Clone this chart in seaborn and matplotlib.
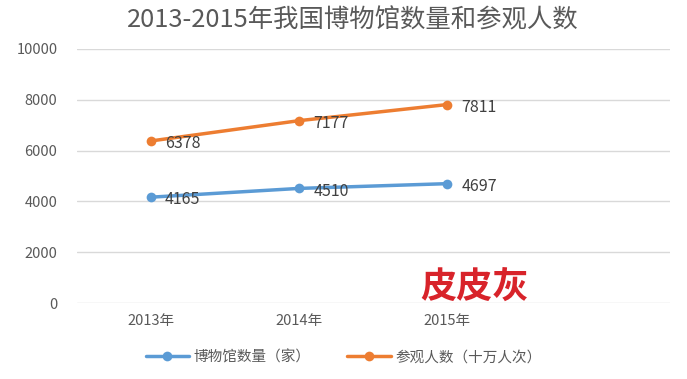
import pandas as pd
import matplotlib.pyplot as plt
import seaborn as sns

years = ['2013年', '2014年', '2015年']
museums = [4165, 4510, 4697]
visitors = [6378, 7177, 7811]
series_names = ['博物馆数量（家）', '参观人数（十万人次）']
yticks = [0, 2000, 4000, 6000, 8000, 10000]

df = pd.DataFrame({
    'year': years * 2,
    'value': museums + visitors,
    'series': [series_names[0]] * 3 + [series_names[1]] * 3,
})

sns.set_theme(style='white')
plt.rcParams['font.family'] = ['Noto Sans CJK SC', 'DejaVu Sans']

fig = plt.figure(figsize=(6.87, 3.79), dpi=100)
ax = fig.add_axes([0.112, 0.2005, 0.863, 0.6705])

palette = {series_names[0]: '#5B9BD5', series_names[1]: '#ED7D31'}
sns.lineplot(data=df, x='year', y='value', hue='series', palette=palette,
             marker='o', markersize=7, markeredgewidth=0, linewidth=2.5, ax=ax)

# data labels, a bit right of and below each point
for vals in (museums, visitors):
    for i, v in enumerate(vals):
        ax.annotate(str(v), (i, v), xytext=(10, -2), textcoords='offset points',
                    ha='left', va='center', fontsize=11.5, color='#404040')

ax.set_xlim(-0.5, 3.5)
ax.set_ylim(0, 10000)
ax.set_yticks(yticks)
ax.grid(axis='y', color='#d9d9d9', linewidth=1)
ax.set_axisbelow(True)
for s in ax.spines.values():
    s.set_visible(False)
ax.tick_params(axis='both', length=0, labelsize=10.5, labelcolor='#595959')
ax.tick_params(axis='y', pad=14)
ax.tick_params(axis='x', pad=8)
ax.set_xlabel('')
ax.set_ylabel('')

ax.legend(loc='center', bbox_to_anchor=(0.5, 0.058), bbox_transform=fig.transFigure,
          ncol=2, frameon=False, fontsize=10.5, labelcolor='#595959',
          handlelength=3, columnspacing=2.5, handletextpad=0.3)

fig.text(0.514, 0.945, '2013-2015年我国博物馆数量和参观人数', ha='center', va='center',
         fontsize=18.3, color='#595959')

fig.text(0.69, 0.24, '皮皮灰', fontsize=26, color='#D8232A', fontweight='bold',
         ha='center', va='center')

fig.savefig('out.png', dpi=100)
